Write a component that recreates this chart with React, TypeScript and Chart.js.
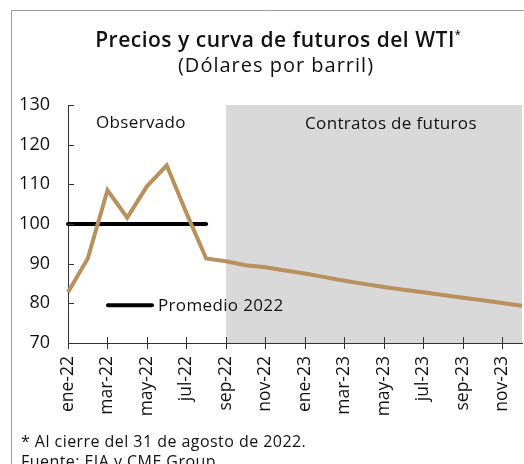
import React, { useEffect, useRef } from "react";
import { Chart, registerables } from "chart.js";

Chart.register(...registerables);

const months = [
  "ene-22", "feb-22", "mar-22", "abr-22", "may-22", "jun-22", "jul-22", "ago-22",
  "sep-22", "oct-22", "nov-22", "dic-22", "ene-23", "feb-23", "mar-23", "abr-23",
  "may-23", "jun-23", "jul-23", "ago-23", "sep-23", "oct-23", "nov-23", "dic-23",
];
const wti = [
  82.8, 91.3, 108.5, 101.6, 109.5, 114.8, 102.8, 91.3,
  90.6, 89.6, 89.1, 88.3, 87.5, 86.6, 85.7, 84.9,
  84.1, 83.4, 82.8, 82.1, 81.4, 80.8, 80.1, 79.4,
];
const promedio2022 = [100, 100, 100, 100, 100, 100, 100, 100];
const yTicks = [70, 80, 90, 100, 110, 120, 130];
const futuresStart = "sep-22";
const legendValue = 79.5;

const FONT = "'Open Sans', 'DejaVu Sans', sans-serif";

const decorPlugin = {
  id: "decor",
  beforeDatasetsDraw(chart: any) {
    const { ctx, chartArea, scales } = chart;
    const x = scales.x;
    const xs = x.getPixelForValue(months.indexOf(futuresStart));
    ctx.save();
    ctx.fillStyle = "#d9d9d9";
    ctx.fillRect(xs, chartArea.top, chartArea.right - xs, chartArea.bottom - chartArea.top);
    ctx.restore();
  },
  afterDatasetsDraw(chart: any) {
    const { ctx, chartArea, scales } = chart;
    const x = scales.x, y = scales.y;
    ctx.save();
    // frame
    ctx.strokeStyle = "#9a9a9a";
    ctx.lineWidth = 1;
    ctx.beginPath();
    ctx.moveTo(11.5, 470);
    ctx.lineTo(11.5, 10.5);
    ctx.lineTo(530, 10.5);
    ctx.stroke();

    // ticks
    ctx.strokeStyle = "#333";
    ctx.lineWidth = 1;
    const yb = y.getPixelForValue(yTicks[0]);
    for (let i = 0; i < months.length; i += 2) {
      const px = Math.round(x.getPixelForValue(i)) + 0.5;
      ctx.beginPath();
      ctx.moveTo(px, yb - 6);
      ctx.lineTo(px, yb + 6);
      ctx.stroke();
    }
    const xl = chartArea.left;
    for (const v of yTicks) {
      const py = Math.round(y.getPixelForValue(v)) + 0.5;
      ctx.beginPath();
      ctx.moveTo(xl, py);
      ctx.lineTo(xl + 6, py);
      ctx.stroke();
    }

    // title
    ctx.fillStyle = "#111";
    ctx.textBaseline = "alphabetic";
    ctx.textAlign = "left";
    ctx.font = `600 21px ${FONT}`;
    ctx.letterSpacing = "0.5px";
    const t = "Precios y curva de futuros del WTI";
    const tw = ctx.measureText(t).width;
    const tx = 275 - tw / 2;
    ctx.fillText(t, tx, 47);
    ctx.font = `600 11px ${FONT}`;
    ctx.fillText("*", tx + tw, 38);
    ctx.font = `400 20px ${FONT}`;
    ctx.letterSpacing = "1px";
    ctx.textAlign = "center";
    ctx.fillText("(Dólares por barril)", 276, 72);

    // annotations
    ctx.font = `400 17px ${FONT}`;
    ctx.letterSpacing = "0.35px";
    ctx.textAlign = "left";
    ctx.fillStyle = "#111";
    ctx.fillText("Observado", 96, 128);
    ctx.fillText("Contratos de futuros", 305, 129);

    // legend
    const ly = y.getPixelForValue(legendValue);
    ctx.strokeStyle = "#000";
    ctx.lineWidth = 4;
    ctx.lineCap = "round";
    ctx.beginPath();
    ctx.moveTo(108, ly);
    ctx.lineTo(152, ly);
    ctx.stroke();
    ctx.textBaseline = "middle";
    ctx.fillText("Promedio 2022", 158, ly + 1);

    // footer
    ctx.textBaseline = "alphabetic";
    ctx.font = `400 16px ${FONT}`;
    ctx.letterSpacing = "0.45px";
    ctx.fillText("* Al cierre del 31 de agosto de 2022.", 21, 447);
    ctx.fillText("Fuente: EIA y CME Group.", 21, 467);
    ctx.restore();
  },
};

export default function App() {
  const ref = useRef<HTMLCanvasElement | null>(null);
  useEffect(() => {
    document.body.style.margin = "0";
    const chart = new Chart(ref.current as HTMLCanvasElement, {
      type: "line",
      data: {
        labels: months,
        datasets: [
          {
            label: "Promedio 2022",
            data: promedio2022,
            borderColor: "#000",
            borderWidth: 4,
            pointRadius: 0,
            borderCapStyle: "round",
            order: 2,
          },
          {
            label: "WTI",
            data: wti,
            borderColor: "#b8915c",
            borderWidth: 4,
            pointRadius: 0,
            tension: 0,
            order: 1,
          },
        ],
      },
      options: {
        animation: false,
        responsive: false,
        layout: { padding: { top: 105, right: 2, left: 0, bottom: 30 } },
        plugins: { legend: { display: false }, tooltip: { enabled: false }, title: { display: false } },
        scales: {
          x: {
            type: "category",
            offset: false,
            grid: { display: false, drawTicks: false },
            border: { display: true, color: "#333", width: 1 },
            ticks: {
              autoSkip: false,
              minRotation: 90,
              maxRotation: 90,
              padding: 13,
              color: "#111",
              font: { family: FONT, size: 17.5 },
              callback: (v: any, i: number) => (i % 2 === 0 ? months[i] : ""),
            },
            afterFit: (s: any) => { s.height = 91; s.paddingLeft = 0; s.paddingRight = 0; },
          },
          y: {
            min: 70,
            max: 130,
            grid: { display: false, drawTicks: false },
            border: { display: true, color: "#333", width: 1 },
            ticks: {
              stepSize: 10,
              padding: 18,
              color: "#111",
              font: { family: FONT, size: 18 },
            },
            afterFit: (s: any) => { s.width = 68; s.paddingTop = 0; s.paddingBottom = 0; },
          },
        },
      },
      plugins: [decorPlugin],
    });
    return () => chart.destroy();
  }, []);
  return (
    <div style={{ position: "absolute", left: 0, top: 0, width: 524, height: 464 }}>
      <canvas ref={ref} width={524} height={464} />
    </div>
  );
}
